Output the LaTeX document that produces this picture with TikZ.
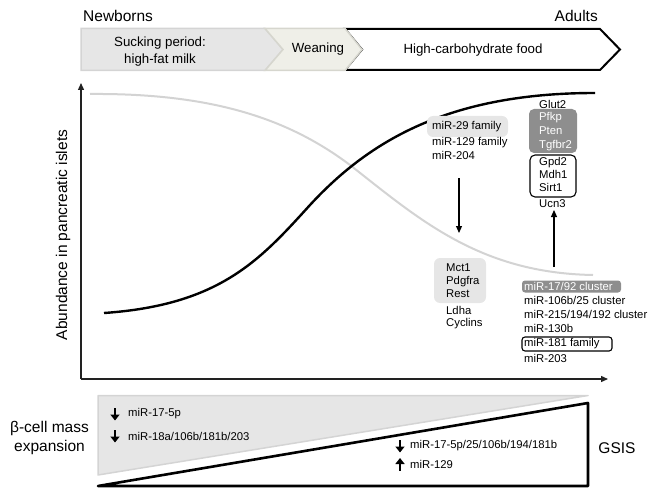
\documentclass[tikz,border=0pt]{standalone}
\usepackage{fontspec}
\setmainfont{Liberation Sans}
\usetikzlibrary{arrows.meta}
\definecolor{lgrey}{HTML}{E6E6E6}
\definecolor{lgreyline}{HTML}{D4D4D4}
\definecolor{dgrey}{HTML}{8E8E8E}
\definecolor{curvegrey}{HTML}{D3D3D3}
\definecolor{weanfill}{HTML}{EFEFE8}
\definecolor{weanline}{HTML}{D6D6CE}
\definecolor{axiscol}{HTML}{222222}
\begin{document}
\begin{tikzpicture}[x=1pt,y=-1pt,
  lbl/.style={font=\fontsize{11.3}{13.7}\selectfont, inner sep=0pt, align=left, anchor=west},
  bigtxt/.style={font=\fontsize{15.5}{19}\selectfont, inner sep=0pt, align=center},
  midtxt/.style={font=\fontsize{13.3}{16.7}\selectfont, inner sep=0pt, align=center},
  lightbox/.style={fill=lgrey, draw=none, rounded corners=6pt, inner sep=0pt},
  darkbox/.style={fill=dgrey, draw=none, rounded corners=5pt, inner sep=0pt},
  outlinebox/.style={fill=white, draw=black, line width=1.1pt, rounded corners=5pt, inner sep=0pt},
  axisline/.style={draw=axiscol, line width=1.3pt, -{Triangle[length=7pt,width=6pt]}},
  thinarrow/.style={draw=black, line width=1.2pt, -{Triangle[length=7pt,width=6pt]}},
  boldarrow/.style={draw=black, line width=2.4pt, -{Triangle[length=6pt,width=9pt]}},
]
\useasboundingbox (0,0) rectangle (652,489);

% ---------- top bar ----------
\node[bigtxt, anchor=west] (newborns) at (83,16) {Newborns};
\node[bigtxt, anchor=east] (adults) at (598,16) {Adults};

\draw[fill=white, draw=black, line width=2pt, line join=miter]
  (345,29) -- (600,29) -- (620,49.5) -- (600,70) -- (345,70) -- (362,49.5) -- cycle;
\draw[fill=lgrey, draw=lgreyline, line width=1.5pt]
  (81,28.5) -- (265,28.5) -- (283,49.5) -- (265,70.5) -- (81,70.5) -- cycle;
\draw[fill=weanfill, draw=weanline, line width=1.5pt]
  (265,28.5) -- (345,28.5) -- (362,49.5) -- (345,70.5) -- (265,70.5) -- (283,49.5) -- cycle;

\node[midtxt] (suck) at (160,51.5) {Sucking period:\\high-fat milk};
\node[midtxt] (wean) at (318,49.5) {Weaning};
\node[midtxt] (carbo) at (473,50) {High-carbohydrate food};

% ---------- axes ----------
\coordinate (origin) at (81,379);
\coordinate (ytip) at (81,83);
\coordinate (xtip) at (608,379);
\draw[axisline] (origin) -- (ytip);
\draw[axisline] (origin) -- (xtip);
\node[bigtxt, rotate=90] (ylabel) at (63,235) {Abundance in pancreatic islets};

% ---------- curves ----------
\draw[curvegrey, line width=2pt]
  (90,94) .. controls (215,93) and (290,120) .. (350,165)
  .. controls (420,220) and (480,273) .. (593,275);
\draw[black, line width=2.4pt]
  (104,313) .. controls (220,305) and (260,260) .. (310,205)
  .. controls (370,140) and (450,93) .. (595,93);

% ---------- middle labels ----------
\node[lightbox, minimum width=81pt, minimum height=21pt] (m29box) at (467.5,126.5) {};
\node[lbl] (m29) at (432,127) {miR-29 family};
\node[lbl] (m129) at (432,148.5) {miR-129 family\\miR-204};

\coordinate (downS) at (459,178);
\coordinate (downE) at (459,233);
\draw[thinarrow] (downS) -- (downE);

\node[lightbox, minimum width=52pt, minimum height=45pt] (mctbox) at (460,280.5) {};
\node[lbl, font=\fontsize{11.3}{13.2}\selectfont] (mct) at (446,280.5) {Mct1\\Pdgfra\\Rest};
\node[lbl, font=\fontsize{11.3}{12.8}\selectfont] (ldha) at (446,317.5) {Ldha\\Cyclins};

% ---------- right labels ----------
\node[lbl] (glut) at (539,104) {Glut2};
\node[darkbox, minimum width=48pt, minimum height=44pt] (pbox) at (553,131) {};
\node[lbl, text=white, font=\fontsize{11.3}{14}\selectfont] (ptxt) at (539,132) {Pfkp\\Pten\\Tgfbr2};
\node[outlinebox, minimum width=46pt, minimum height=42pt] (gbox) at (553,176) {};
\node[lbl, font=\fontsize{11.3}{13.3}\selectfont] (gtxt) at (539,174.5) {Gpd2\\Mdh1\\Sirt1};
\node[lbl] (ucn) at (539,204) {Ucn3};

\coordinate (upS) at (554,267);
\coordinate (upE) at (554,210);
\draw[thinarrow] (upS) -- (upE);

\node[darkbox, rounded corners=3pt, minimum width=99pt, minimum height=12pt] (m17box) at (571.5,286.5) {};
\node[lbl, text=white] (m17) at (524,286.5) {miR-17/92 cluster};
\node[lbl] (mclus) at (524,314.5) {miR-106b/25 cluster\\miR-215/194/192 cluster\\miR-130b};
\node[outlinebox, rounded corners=3pt, minimum width=90pt, minimum height=14pt] (m181box) at (567,344) {};
\node[lbl] (m181) at (524,344) {miR-181 family};
\node[lbl] (m203) at (524,358) {miR-203};

% ---------- bottom triangles ----------
\draw[fill=lgrey, draw=lgreyline, line width=1.5pt, line join=round]
  (98,395.5) -- (588,395.5) -- (98,475) -- cycle;
\draw[fill=white, draw=black, line width=2.6pt, line join=round]
  (98,486) -- (588,403) -- (588,486) -- cycle;

\node[bigtxt] (beta) at (49.5,437.5) {β-cell mass\\expansion};
\node[bigtxt] (gsis) at (617,448) {GSIS};

\draw[boldarrow] (115,408) -- (115,420.5);
\node[lbl] (b1) at (128,414) {miR-17-5p};
\draw[boldarrow] (115,430) -- (115,442.5);
\node[lbl] (b2) at (128,436) {miR-18a/106b/181b/203};

\draw[boldarrow] (400,440) -- (400,452.5);
\node[lbl] (g1) at (410,446) {miR-17-5p/25/106b/194/181b};
\draw[boldarrow] (400,470.5) -- (400,458);
\node[lbl] (g2) at (410,464) {miR-129};
\end{tikzpicture}
\end{document}
